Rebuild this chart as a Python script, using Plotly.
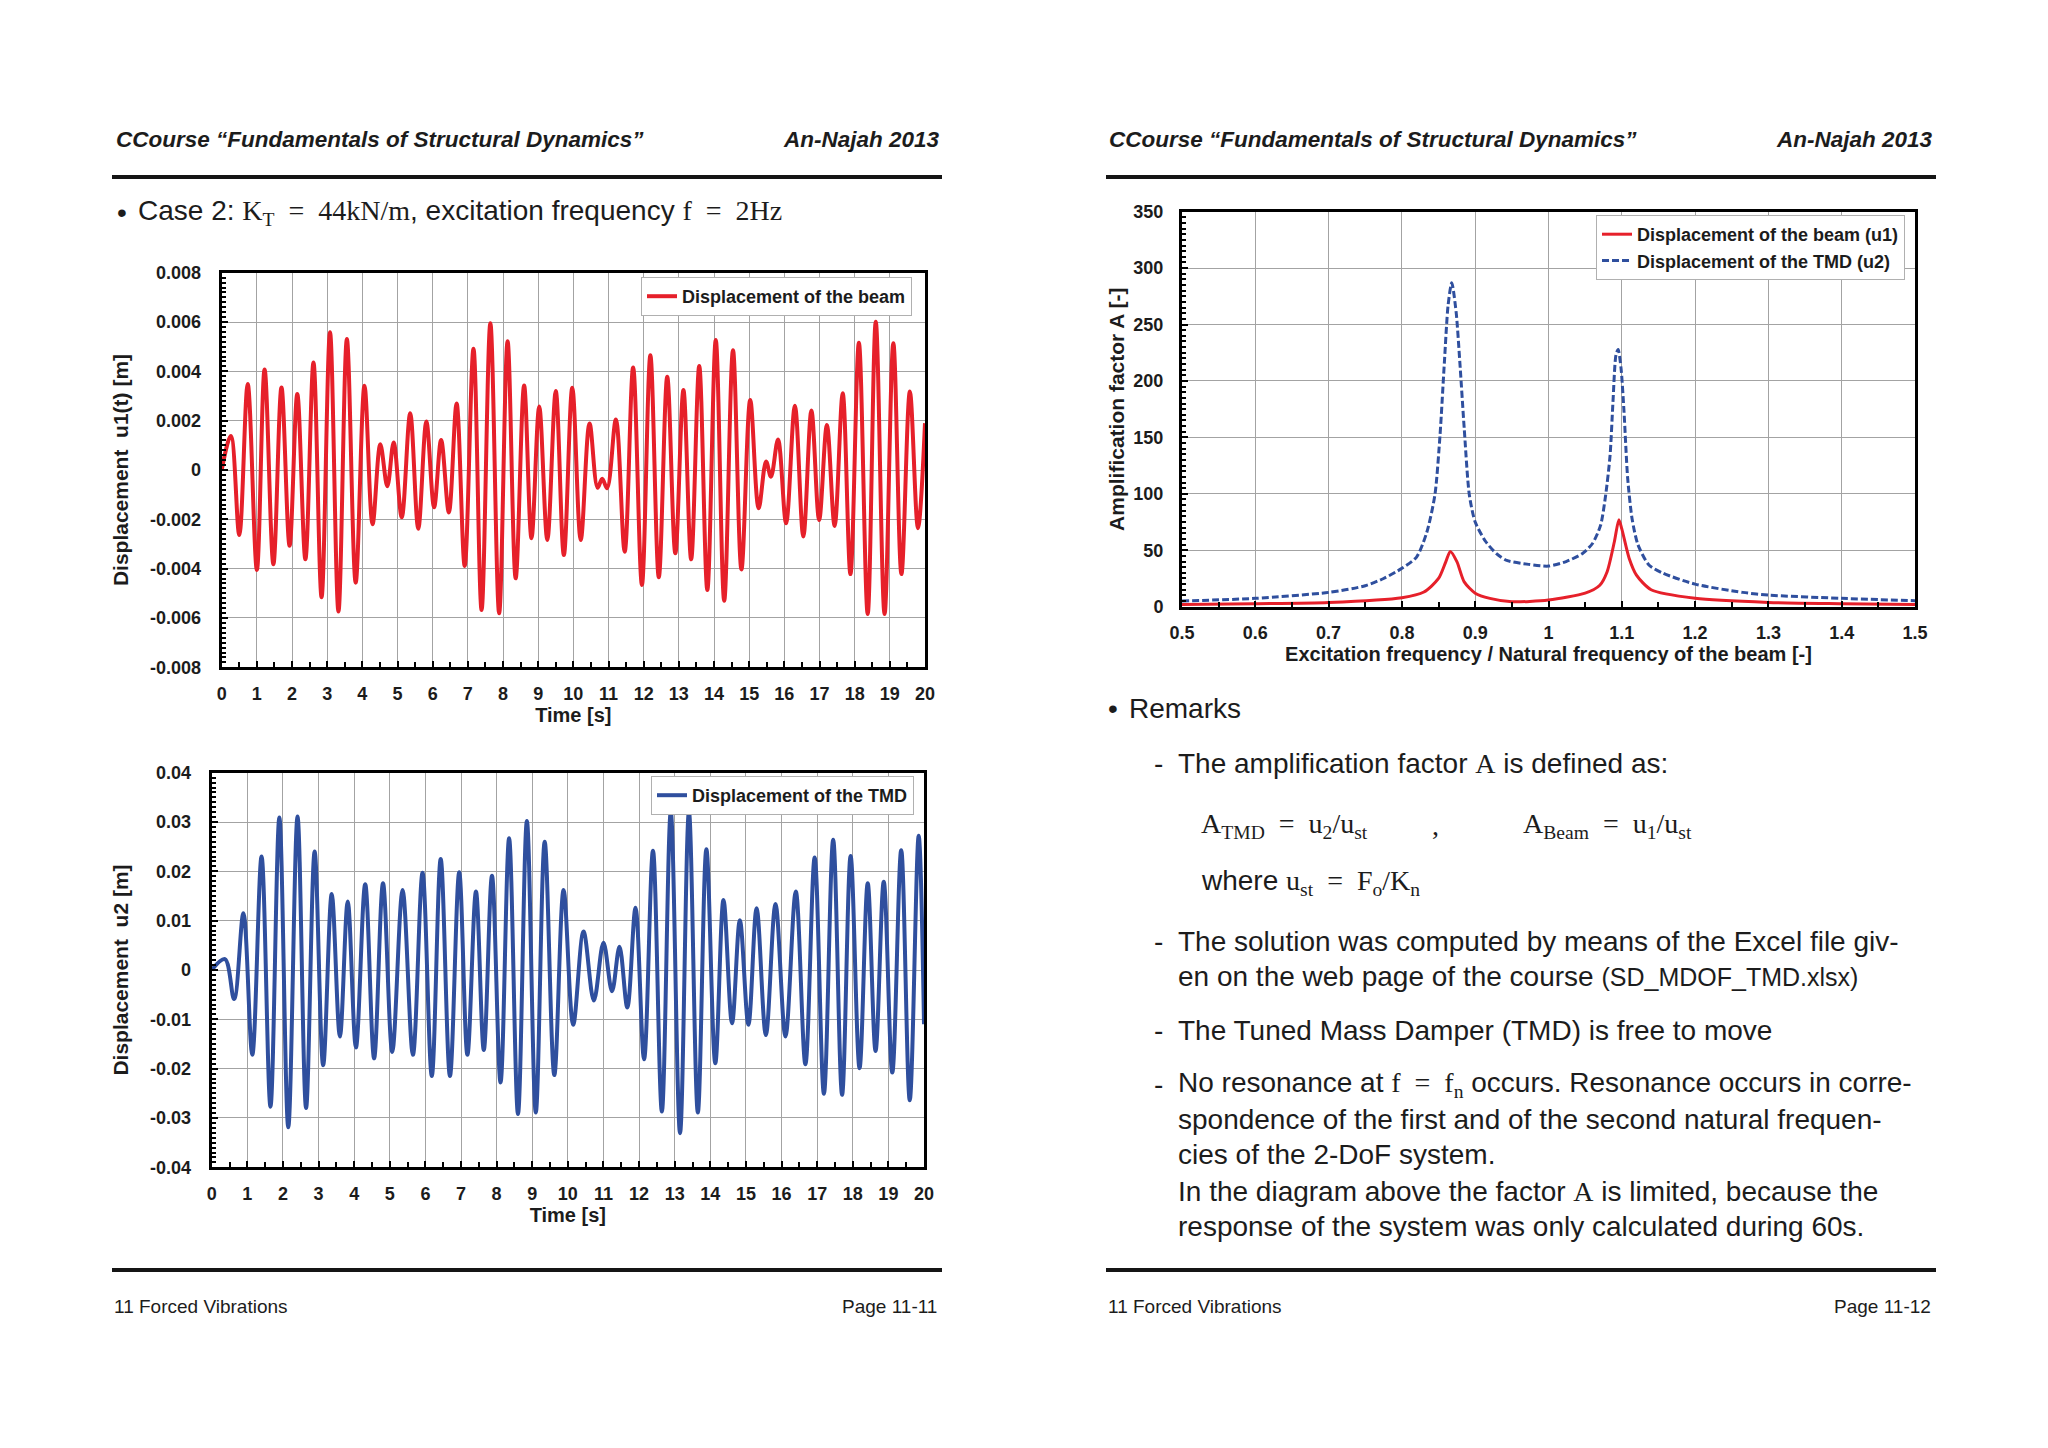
import plotly.graph_objects as go

W, H = 2048, 1448

# ---------------- data (extrema of the oscillations) ----------------
t_beam = [0, 0.26, 0.50, 0.74, 1.00, 1.22, 1.47, 1.70, 1.93, 2.15, 2.38, 2.61, 2.84, 3.08, 3.32,
          3.56, 3.81, 4.06, 4.29, 4.51, 4.71, 4.89, 5.12, 5.36, 5.59, 5.82, 6.04, 6.24, 6.46, 6.68,
          6.91, 7.16, 7.39, 7.64, 7.89, 8.13, 8.36, 8.60, 8.81, 9.03, 9.26, 9.50, 9.73, 9.97, 10.21,
          10.46, 10.69, 10.82, 10.96, 11.21, 11.46, 11.70, 11.95, 12.19, 12.43, 12.67, 12.90, 13.13,
          13.35, 13.58, 13.81, 14.05, 14.29, 14.54, 14.78, 15.03, 15.27, 15.48, 15.62, 15.82, 16.05,
          16.30, 16.54, 16.77, 16.99, 17.21, 17.43, 17.66, 17.88, 18.12, 18.37, 18.60, 18.85, 19.10,
          19.33, 19.57, 19.80, 20.0]
u1_beam = [0, 0.00138, -0.00264, 0.00349, -0.00405, 0.00408, -0.00382, 0.00335, -0.00307, 0.00308,
           -0.00362, 0.00436, -0.00516, 0.00559, -0.00574, 0.00531, -0.00457, 0.00342, -0.00220, 0.00104,
           -0.00066, 0.00112, -0.00192, 0.00230, -0.00238, 0.00197, -0.00151, 0.00122, -0.00172, 0.00270,
           -0.00389, 0.00492, -0.00568, 0.00595, -0.00581, 0.00522, -0.00439, 0.00343, -0.00277, 0.00257,
           -0.00284, 0.00320, -0.00345, 0.00334, -0.00284, 0.00189, -0.00072, -0.00035, -0.00074, 0.00205,
           -0.00331, 0.00416, -0.00466, 0.00465, -0.00435, 0.00378, -0.00338, 0.00324, -0.00362, 0.00422,
           -0.00487, 0.00527, -0.00530, 0.00486, -0.00403, 0.00284, -0.00155, 0.00034, -0.00027, 0.00124,
           -0.00216, 0.00261, -0.00270, 0.00241, -0.00203, 0.00182, -0.00227, 0.00311, -0.00422, 0.00516,
           -0.00584, 0.00601, -0.00584, 0.00514, -0.00422, 0.00318, -0.00236, 0.0019]

t_tmd = [0, 0.37, 0.63, 0.89, 1.14, 1.40, 1.65, 1.90, 2.15, 2.41, 2.65, 2.89, 3.13, 3.37, 3.60,
         3.82, 4.05, 4.31, 4.56, 4.81, 5.07, 5.36, 5.65, 5.92, 6.18, 6.43, 6.69, 6.95, 7.18, 7.42,
         7.64, 7.87, 8.11, 8.35, 8.60, 8.85, 9.10, 9.35, 9.62, 9.88, 10.15, 10.44, 10.73, 11.00, 11.24,
         11.45, 11.67, 11.90, 12.14, 12.39, 12.64, 12.89, 13.15, 13.40, 13.65, 13.89, 14.14, 14.37,
         14.61, 14.83, 15.07, 15.30, 15.56, 15.83, 16.11, 16.40, 16.67, 16.93, 17.19, 17.45, 17.70,
         17.94, 18.19, 18.42, 18.64, 18.87, 19.11, 19.36, 19.60, 19.85, 20.0]
u2_tmd = [0, 0.0022, -0.0059, 0.0115, -0.0172, 0.0230, -0.0277, 0.0309, -0.0319, 0.0311, -0.0280,
          0.0240, -0.0193, 0.0154, -0.0135, 0.0139, -0.0157, 0.0174, -0.0179, 0.0176, -0.0166, 0.0162,
          -0.0172, 0.0197, -0.0215, 0.0225, -0.0215, 0.0198, -0.0172, 0.0159, -0.0162, 0.0191, -0.0228,
          0.0267, -0.0292, 0.0302, -0.0289, 0.0260, -0.0213, 0.0162, -0.0111, 0.0078, -0.0062, 0.0055,
          -0.0043, 0.0047, -0.0076, 0.0126, -0.0181, 0.0242, -0.0287, 0.0321, -0.0331, 0.0321, -0.0289,
          0.0245, -0.0189, 0.0142, -0.0108, 0.0101, -0.0111, 0.0125, -0.0132, 0.0134, -0.0135, 0.0159,
          -0.0191, 0.0228, -0.0251, 0.0264, -0.0253, 0.0231, -0.0199, 0.0176, -0.0164, 0.0179, -0.0208,
          0.0243, -0.0264, 0.0272, -0.011]

freq_beam = [0.5, 0.6, 0.7, 0.8, 0.83, 0.85, 0.86, 0.866, 0.875, 0.885, 0.9, 0.92, 0.95, 1.0, 1.05,
             1.07, 1.08, 1.09, 1.096, 1.10, 1.11, 1.12, 1.14, 1.2, 1.3, 1.4, 1.5]
amp_beam = [2, 2.7, 3.8, 8, 13, 25, 40, 49, 40, 22, 12, 7.4, 4.4, 5.9, 12,
            19, 31, 58, 77, 69, 43, 28, 15, 7.4, 3.8, 2.7, 2]

freq_tmd = [0.5, 0.6, 0.7, 0.75, 0.775, 0.8, 0.82, 0.834, 0.845, 0.852, 0.858, 0.863, 0.868, 0.874,
            0.879, 0.885, 0.892, 0.9, 0.914, 0.929, 0.943, 0.973, 1.0, 1.024, 1.046, 1.06, 1.071, 1.078,
            1.084, 1.088, 1.092, 1.095, 1.099, 1.103, 1.108, 1.114, 1.122, 1.137, 1.155, 1.2, 1.265,
            1.3, 1.4, 1.5]
amp_tmd = [5, 7.4, 12.7, 18.6, 25, 34, 44, 66, 99, 152, 217, 267, 287, 261,
           217, 158, 99, 75, 58, 47, 41, 37.5, 36, 40, 47, 56, 72, 99,
           134, 182, 223, 228, 211, 173, 114, 78, 55, 37, 30, 20, 12.7,
           10.3, 7.4, 5.3]

time_ticks = list(range(0, 21))
u1_tickvals = [-0.008, -0.006, -0.004, -0.002, 0, 0.002, 0.004, 0.006, 0.008]
u1_ticktext = ["-0.008", "-0.006", "-0.004", "-0.002", "0", "0.002", "0.004", "0.006", "0.008"]
u2_tickvals = [-0.04, -0.03, -0.02, -0.01, 0, 0.01, 0.02, 0.03, 0.04]
u2_ticktext = ["-0.04", "-0.03", "-0.02", "-0.01", "0", "0.01", "0.02", "0.03", "0.04"]
freq_tickvals = [0.5, 0.6, 0.7, 0.8, 0.9, 1.0, 1.1, 1.2, 1.3, 1.4, 1.5]
freq_ticktext = ["0.5", "0.6", "0.7", "0.8", "0.9", "1", "1.1", "1.2", "1.3", "1.4", "1.5"]
amp_tickvals = [0, 50, 100, 150, 200, 250, 300, 350]

# ---------------- style ----------------
SANS = "Liberation Sans, Arial, Helvetica, sans-serif"
SERIF = "Liberation Serif, Times New Roman, serif"
INK = "#1c1c1c"
RED = "#e6202a"
BLUE = "#2f4f9e"
NB = "\u00a0"


def px(x):
    return x / W


def py(y):
    return 1 - y / H


fig = go.Figure()
fig.add_trace(go.Scatter(x=t_beam, y=u1_beam, mode="lines", name="Displacement of the beam",
                         line=dict(color=RED, width=4, shape="spline", smoothing=1.0),
                         xaxis="x", yaxis="y", legend="legend"))
fig.add_trace(go.Scatter(x=t_tmd, y=u2_tmd, mode="lines", name="Displacement of the TMD",
                         line=dict(color=BLUE, width=4, shape="spline", smoothing=1.0),
                         xaxis="x2", yaxis="y2", legend="legend2"))
fig.add_trace(go.Scatter(x=freq_beam, y=amp_beam, mode="lines", name="Displacement of the beam (u1)",
                         line=dict(color=RED, width=3, shape="spline", smoothing=0.7),
                         xaxis="x3", yaxis="y3", legend="legend3"))
fig.add_trace(go.Scatter(x=freq_tmd, y=amp_tmd, mode="lines", name="Displacement of the TMD (u2)",
                         line=dict(color=BLUE, width=3, shape="spline", smoothing=0.7, dash="7px,3px"),
                         xaxis="x3", yaxis="y3", legend="legend3"))

tickfont = dict(family=SANS, size=18, color=INK, weight="bold")
titlefont = dict(family=SANS, size=20, color=INK, weight="bold")


def axis_style(**kw):
    d = dict(showline=True, linewidth=3, linecolor="black", mirror=True,
             showgrid=True, gridcolor="#a3a3a3", gridwidth=1, zeroline=False,
             ticks="inside", ticklen=6, tickwidth=2, tickcolor="black",
             tickfont=tickfont, fixedrange=True, automargin=False)
    d.update(kw)
    return d


fig.update_layout(
    width=W, height=H, margin=dict(l=0, r=0, t=0, b=0, autoexpand=False),
    paper_bgcolor="white", plot_bgcolor="white", showlegend=True,
    xaxis=axis_style(domain=[px(221.7), px(925)], anchor="y", range=[0, 20],
                     tickvals=time_ticks, ticklabelstandoff=8,
                     minor=dict(ticks="inside", dtick=0.5, ticklen=5, tickwidth=2, tickcolor="black", showgrid=False),
                     title=dict(text="Time [s]", font=titlefont, standoff=4)),
    yaxis=axis_style(domain=[py(667.3), py(272.7)], anchor="x", range=[-0.008, 0.008],
                     tickvals=u1_tickvals, ticktext=u1_ticktext, ticklabelstandoff=14,
                     minor=dict(ticks="inside", dtick=0.0002, ticklen=4, tickwidth=2, tickcolor="black", showgrid=False),
                     title=dict(text="Displacement" + NB + " u1(t) [m]", font=dict(family=SANS, size=21, color=INK, weight="bold"), standoff=16)),
    xaxis2=axis_style(domain=[px(211.7), px(924)], anchor="y2", range=[0, 20],
                      tickvals=time_ticks, ticklabelstandoff=8,
                      minor=dict(ticks="inside", dtick=0.5, ticklen=5, tickwidth=2, tickcolor="black", showgrid=False),
                      title=dict(text="Time [s]", font=titlefont, standoff=4)),
    yaxis2=axis_style(domain=[py(1167.3), py(772.7)], anchor="x2", range=[-0.04, 0.04],
                      tickvals=u2_tickvals, ticktext=u2_ticktext, ticklabelstandoff=14,
                      minor=dict(ticks="inside", dtick=0.001, ticklen=4, tickwidth=2, tickcolor="black", showgrid=False),
                      title=dict(text="Displacement" + NB + " u2 [m]", font=dict(family=SANS, size=21, color=INK, weight="bold"), standoff=16)),
    xaxis3=axis_style(domain=[px(1182), px(1915)], anchor="y3", range=[0.5, 1.5],
                      tickvals=freq_tickvals, ticktext=freq_ticktext, ticklabelstandoff=8,
                      minor=dict(ticks="inside", dtick=0.05, ticklen=5, tickwidth=2, tickcolor="black", showgrid=False),
                      title=dict(text="Excitation frequency / Natural frequency of the beam [-]", font=titlefont, standoff=2)),
    yaxis3=axis_style(domain=[py(606.7), py(211.7)], anchor="x3", range=[0, 350],
                      tickvals=amp_tickvals, ticklabelstandoff=12,
                      minor=dict(ticks="inside", dtick=5, ticklen=4, tickwidth=2, tickcolor="black", showgrid=False),
                      title=dict(text="Amplification factor A [-]", font=dict(family=SANS, size=21, color=INK, weight="bold"), standoff=3)),
    legend=dict(x=px(912), y=py(277), xanchor="right", yanchor="top", bgcolor="white",
                bordercolor="#b0b0b0", borderwidth=1, itemwidth=30,
                font=dict(family=SANS, size=18, color=INK, weight="bold")),
    legend2=dict(x=px(914), y=py(776), xanchor="right", yanchor="top", bgcolor="white",
                 bordercolor="#b0b0b0", borderwidth=1, itemwidth=30,
                 font=dict(family=SANS, size=18, color=INK, weight="bold")),
    legend3=dict(x=px(1905), y=py(215), xanchor="right", yanchor="top", bgcolor="white",
                 bordercolor="#b0b0b0", borderwidth=1, itemwidth=30, tracegroupgap=0,
                 font=dict(family=SANS, size=18, color=INK, weight="bold")),
)

# ---------------- page furniture ----------------
shapes = []
for (x0, x1) in [(112, 942), (1106, 1936)]:
    for y in (177, 1270):
        shapes.append(dict(type="line", xref="paper", yref="paper", x0=px(x0), x1=px(x1),
                           y0=py(y), y1=py(y), line=dict(color="#151515", width=4)))
fig.update_layout(shapes=shapes)

ann = []


def text(x, y, s, size=28, anchor="left", family=SANS, color=INK):
    ann.append(dict(x=px(x), y=py(y), xref="paper", yref="paper", text=s, showarrow=False,
                    xanchor=anchor, yanchor="middle", font=dict(family=family, size=size, color=color)))


def serif(s):
    return "<span style='font-family:Liberation Serif'>" + s + "</span>"


EQ = NB + NB + "=" + NB + NB

# headers
for (xl, xr) in [(114, 942), (1107, 1935)]:
    text(xl, 139, "<b><i>CCourse \u201cFundamentals of Structural Dynamics\u201d</i></b>", size=22.5)
    text(xr, 139, "<b><i>An-Najah 2013</i></b>", size=22.5, anchor="right")
# footers
text(112, 1306, "11 Forced Vibrations", size=19)
text(939, 1306, "Page 11-11", size=19, anchor="right")
text(1106, 1306, "11 Forced Vibrations", size=19)
text(1933, 1306, "Page 11-12", size=19, anchor="right")

# case line
text(115, 212, "\u2022", size=28)
text(136, 212, "Case 2: " + serif("K<sub>T</sub>" + EQ + "44kN/m") + ", excitation frequency " + serif("f" + EQ + "2Hz"), size=28)

# remarks
text(1106, 709, "\u2022", size=28)
text(1127, 709, "Remarks", size=28)
dash_x, tx = 1152, 1176
text(dash_x, 763, "-", size=28)
text(tx, 763, "The amplification factor " + serif("A") + " is defined as:", size=28)
text(1199, 826, "A<sub>TMD</sub>" + EQ + "u<sub>2</sub>/u<sub>st</sub>", size=28, family=SERIF)
text(1430, 826, ",", size=28, family=SERIF)
text(1521, 826, "A<sub>Beam</sub>" + EQ + "u<sub>1</sub>/u<sub>st</sub>", size=28, family=SERIF)
text(1199, 882, "where " + serif("u<sub>st</sub>" + EQ + "F<sub>o</sub>/K<sub>n</sub>"), size=28)
text(dash_x, 941, "-", size=28)
text(tx, 941, "The solution was computed by means of the Excel file giv-", size=28)
text(tx, 976, "en on the web page of the course <span style='font-size:25px'>(SD_MDOF_TMD.xlsx)</span>", size=28)
text(dash_x, 1030, "-", size=28)
text(tx, 1030, "The Tuned Mass Damper (TMD) is free to move", size=28)
text(dash_x, 1084, "-", size=28)
text(tx, 1084, "No resonance at " + serif("f" + EQ + "f<sub>n</sub>") + " occurs. Resonance occurs in corre-", size=28)
text(tx, 1119, "spondence of the first and of the second natural frequen-", size=28)
text(tx, 1154, "cies of the 2-DoF system.", size=28)
text(tx, 1191, "In the diagram above the factor " + serif("A") + " is limited, because the", size=28)
text(tx, 1226, "response of the system was only calculated during 60s.", size=28)

fig.update_layout(annotations=ann)

fig.write_html("out.html", config={"displayModeBar": False},
               post_script="document.body.style.margin='0';document.body.style.overflow='hidden';")
